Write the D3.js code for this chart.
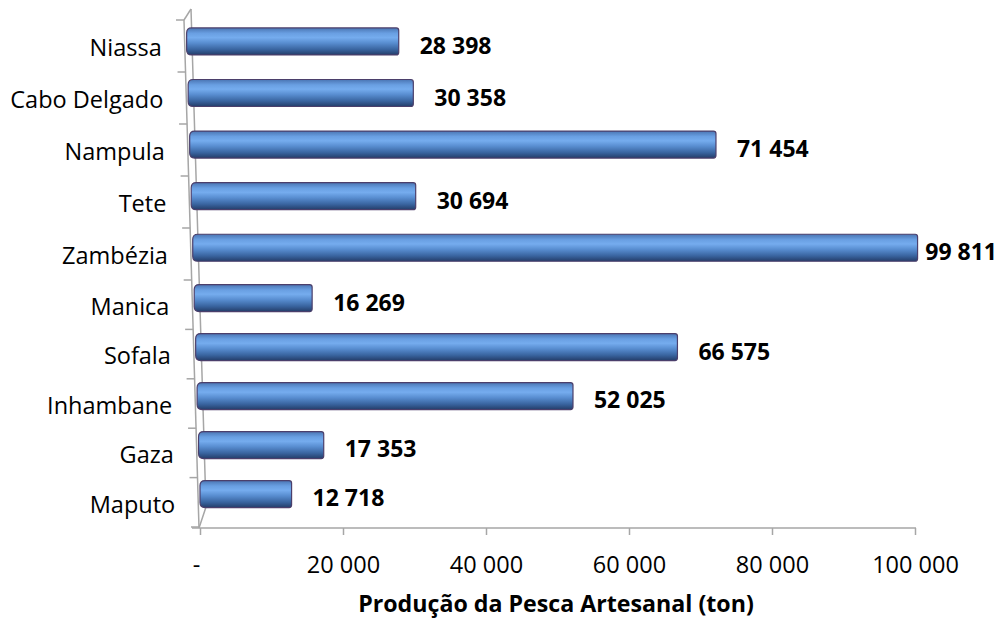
<!DOCTYPE html>
<html><head><meta charset="utf-8">
<script src="https://cdn.jsdelivr.net/npm/d3@7"></script>
<style>body{margin:0;background:#fff} svg{display:block}</style>
</head><body><svg id="c" width="1004" height="622"></svg>
<script>
const categories = ["Niassa","Cabo Delgado","Nampula","Tete","Zambézia","Manica","Sofala","Inhambane","Gaza","Maputo"];
const values = [28398,30358,71454,30694,99811,16269,66575,52025,17353,12718];
const tickValues = [0,20000,40000,60000,80000,100000];
const tickLabels = ["-","20 000","40 000","60 000","80 000","100 000"];
const axisTitle = "Produção da Pesca Artesanal (ton)";

const svg = d3.select("#c");
const font = "'Open Sans', sans-serif";
const fmt = d3.formatLocale({decimal:",", thousands:" ", grouping:[3], currency:["",""]}).format(",d");

// perspective helpers
const yB = d3.scaleLinear().domain([0,5,10]).range([20,280,527]);      // category boundaries
const frontX = d3.scaleLinear().domain([20,528]).range([184,199]);     // front wall edge x at height y
const depthDy = d3.scaleLinear().domain([20,528]).range([11,21]);      // vertical depth offset
const x = d3.scaleLinear().domain([0,100000]).range([200,915]);        // axis scale
const fullLen = d3.scaleLinear().domain([40,250,500]).range([747,726,720]); // perspective: px for 100 000 at row height

const mid = i => (yB(i) + yB(i+1)) / 2;

// gradient
const defs = svg.append("defs");
const grad = defs.append("linearGradient").attr("id","cyl")
  .attr("x1",0).attr("y1",0).attr("x2",0).attr("y2",1);
[[0,"#4a75b3"],[0.2,"#699fe2"],[0.36,"#75acee"],[0.56,"#588dd0"],[0.8,"#39649f"],[1,"#243d69"]]
  .forEach(([o,c]) => grad.append("stop").attr("offset",o).attr("stop-color",c));

// wall
const wallC = "#a6a6a6";
const wall = svg.append("g").attr("stroke", wallC).attr("stroke-width",1.5).attr("fill","none");
wall.append("path").attr("d", `M${frontX(20)},20 L${frontX(528)},528`);
wall.append("path").attr("d", `M${frontX(20)+7},9 L${frontX(528)+7},507 L${frontX(528)},528`);
wall.append("path").attr("d", `M${frontX(20)},20 L${frontX(20)+7},9`);
wall.selectAll("line.ct").data(d3.range(0,11)).join("line")
  .attr("x1", k => frontX(yB(k)) - 8).attr("x2", k => frontX(yB(k)))
  .attr("y1", k => yB(k)).attr("y2", k => yB(k));

// x axis
const axisY = 528;
const xAxis = d3.axisBottom(x).tickValues(tickValues)
  .tickFormat((d,i) => tickLabels[i]).tickSize(7).tickSizeOuter(0);
const ax = svg.append("g").attr("transform", `translate(0,${axisY})`).call(xAxis);
ax.select(".domain").remove();
ax.selectAll(".tick line").attr("stroke", wallC).attr("stroke-width",1.5);
ax.selectAll(".tick text").attr("fill","#000").attr("font-family",font)
  .attr("font-size",23.5).attr("y",0).attr("dy",null)
  .attr("transform",(d) => `translate(${d === 0 ? -4 : 0},45)`);
svg.append("line").attr("x1",192).attr("x2",916).attr("y1",axisY).attr("y2",axisY)
  .attr("stroke", wallC).attr("stroke-width",1.5);

// bars
function barPath(x0,x1,y0,h){
  const rl=5, rr=2.5;
  return `M${x0+rl},${y0} H${x1-rr} Q${x1},${y0} ${x1},${y0+rr} V${y0+h-rr} Q${x1},${y0+h} ${x1-rr},${y0+h} H${x0+rl} Q${x0},${y0+h} ${x0},${y0+h-rl} V${y0+rl} Q${x0},${y0} ${x0+rl},${y0} Z`;
}
const barH = 27;
const rows = categories.map((c,i) => {
  const m = mid(i);
  const cy = m - depthDy(m)*0.4;
  const x0 = frontX(cy) + 2;
  const len = d3.scaleLinear().domain([0,100000]).range([0, fullLen(cy)]);
  return {c, v: values[i], m, cy, x0, x1: x0 + len(values[i])};
});
svg.append("g").selectAll("path").data(rows).join("path")
  .attr("d", d => barPath(d.x0, d.x1, d.cy - barH/2, barH))
  .attr("fill","url(#cyl)").attr("stroke","#4b3f6b").attr("stroke-width",1.2);

// category labels
svg.append("g").selectAll("text").data(rows).join("text")
  .attr("x", d => frontX(d.m) - 23)
  .attr("y", d => d.m + 2 + 8.3)
  .attr("text-anchor","end").attr("font-family",font).attr("font-size",23.5).attr("fill","#000")
  .text(d => d.c);

// value labels
const vl = svg.append("g").selectAll("text").data(rows).join("text")
  .attr("x", d => d.x1 + 21)
  .attr("y", d => d.m + 0.5 - (depthDy(d.m)-11)*0.5 + 8.2)
  .attr("font-family",font).attr("font-size",23).attr("font-weight","bold").attr("fill","#000")
  .text(d => fmt(d.v));
vl.each(function(){
  const b = this.getBBox();
  if (b.x + b.width > 997) d3.select(this).attr("x", 997 - b.width);
});

// axis title
svg.append("text").attr("x",556).attr("y",612).attr("text-anchor","middle")
  .attr("font-family",font).attr("font-size",23.2).attr("font-weight","bold").attr("fill","#000")
  .text(axisTitle);
</script></body></html>
